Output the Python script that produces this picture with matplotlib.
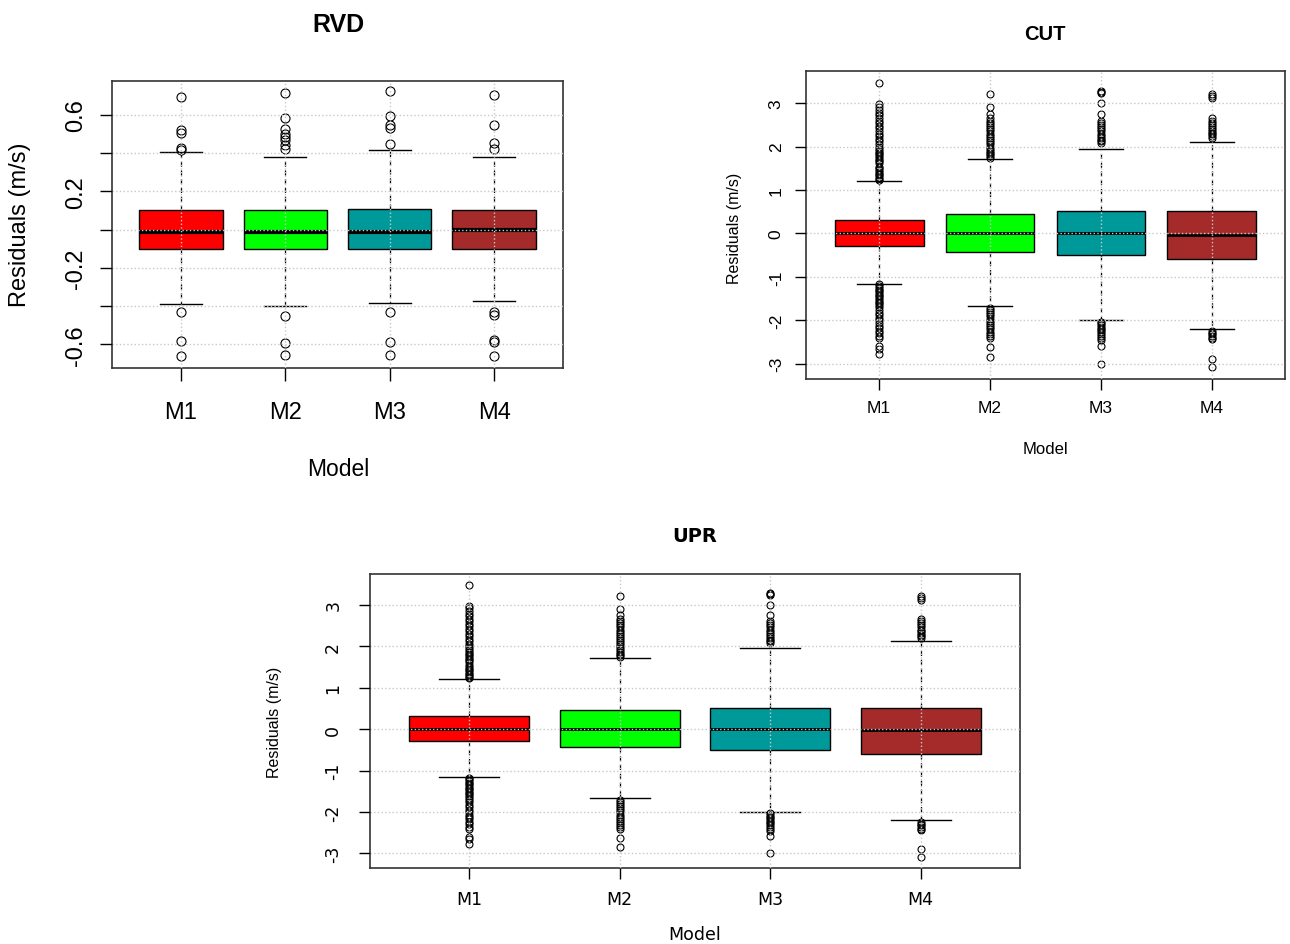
import matplotlib.pyplot as plt

plt.rcParams['font.family'] = ['Liberation Sans', 'DejaVu Sans']

W, H = 1290, 945

models = ['M1', 'M2', 'M3', 'M4']
box_colors = ['#FF0000', '#00FF00', '#009999', '#A52A2A']

# RVD residual summaries (m/s)
rvd_q1 = [-0.103, -0.103, -0.103, -0.103]
rvd_med = [-0.010, -0.010, -0.010, 0.000]
rvd_q3 = [0.101, 0.101, 0.108, 0.101]
rvd_whislo = [-0.389, -0.399, -0.382, -0.373]
rvd_whishi = [0.405, 0.380, 0.415, 0.380]
rvd_fliers = [
    [0.692, 0.520, 0.508, 0.429, 0.415, -0.431, -0.584, -0.661],
    [0.717, 0.584, 0.528, 0.502, 0.485, 0.467, 0.445, 0.420, -0.452, -0.591, -0.654],
    [0.724, 0.595, 0.546, 0.532, 0.450, -0.431, -0.588, -0.654],
    [0.703, 0.546, 0.455, 0.424, -0.431, -0.445, -0.579, -0.588, -0.661],
]
rvd_yticks = [-0.6, -0.4, -0.2, 0.0, 0.2, 0.4, 0.6]
rvd_ylabels = ['-0.6', '', '-0.2', '', '0.2', '', '0.6']

# CUT residual summaries (m/s)
cut_q1 = [-0.285, -0.423, -0.500, -0.590]
cut_med = [0.0, 0.0, 0.0, -0.03]
cut_q3 = [0.310, 0.454, 0.515, 0.515]
cut_whislo = [-1.154, -1.669, -1.992, -2.200]
cut_whishi = [1.200, 1.715, 1.954, 2.115]
cut_fliers = [
    [1.22, 1.26, 1.30, 1.34, 1.38, 1.42, 1.46, 1.50, 1.54, 1.62, 1.66, 1.70, 1.74,
     1.78, 1.82, 1.86, 1.90, 1.95, 2.00, 2.06, 2.12, 2.18, 2.24, 2.30, 2.36, 2.42,
     2.48, 2.54, 2.60, 2.66, 2.72, 2.78, 2.85, 2.92, 2.98, 3.47,
     -1.17, -1.21, -1.25, -1.29, -1.33, -1.37, -1.41, -1.45, -1.49, -1.53, -1.57,
     -1.61, -1.65, -1.70, -1.76, -1.82, -1.88, -1.94, -2.00, -2.06, -2.12, -2.18,
     -2.24, -2.30, -2.36, -2.40, -2.60, -2.65, -2.78],
    [1.74, 1.78, 1.82, 1.86, 1.90, 1.95, 2.00, 2.05, 2.10, 2.15, 2.20, 2.25, 2.30,
     2.35, 2.40, 2.45, 2.50, 2.55, 2.60, 2.66, 2.74, 2.90, 3.22,
     -1.71, -1.76, -1.81, -1.86, -1.91, -1.96, -2.01, -2.06, -2.11, -2.16, -2.21,
     -2.26, -2.31, -2.36, -2.40, -2.62, -2.85],
    [2.08, 2.12, 2.16, 2.20, 2.25, 2.30, 2.35, 2.40, 2.45, 2.50, 2.55, 2.60, 2.75,
     3.00, 3.23, 3.25, 3.27,
     -2.03, -2.07, -2.11, -2.15, -2.19, -2.23, -2.27, -2.31, -2.35, -2.40, -2.45,
     -2.58, -3.00],
    [2.20, 2.24, 2.28, 2.32, 2.36, 2.40, 2.45, 2.50, 2.55, 2.60, 2.66, 3.12, 3.17,
     3.20, -2.24, -2.28, -2.32, -2.36, -2.40, -2.43, -2.90, -3.08],
]
cut_yticks = [-3, -2, -1, 0, 1, 2, 3]
cut_ylabels = ['-3', '-2', '-1', '0', '1', '2', '3']

# UPR residuals share the CUT summaries
upr_q1, upr_med, upr_q3 = cut_q1, cut_med, cut_q3
upr_whislo, upr_whishi, upr_fliers = cut_whislo, cut_whishi, cut_fliers


def px_rect(x0, y0, x1, y1):
    return [x0 / W, 1 - y1 / H, (x1 - x0) / W, (y1 - y0) / H]


def px_text(x, y, s, **kw):
    fig.text(x / W, 1 - y / H, s, ha='center', va='center', **kw)


def draw_panel(ax, q1, med, q3, lo, hi, fliers, yticks, ylabels, ylim,
               fsize, msize, mlw, tlen, xpad, ypad, family=None):
    stats = []
    for i in range(len(models)):
        stats.append(dict(q1=q1[i], med=med[i], q3=q3[i], whislo=lo[i],
                          whishi=hi[i], fliers=fliers[i], label=models[i]))
    bp = ax.bxp(stats, positions=[1, 2, 3, 4], widths=0.8, capwidths=0.4,
                patch_artist=True, showfliers=True,
                boxprops=dict(edgecolor='black', linewidth=1.0),
                medianprops=dict(color='black', linewidth=mlw),
                whiskerprops=dict(color='black', linewidth=0.9, linestyle=(0, (4, 3))),
                capprops=dict(color='black', linewidth=1.0),
                flierprops=dict(marker='o', markerfacecolor='none',
                                markeredgecolor='black', markersize=msize,
                                markeredgewidth=0.8, linestyle='none'))
    for patch, c in zip(bp['boxes'], box_colors):
        patch.set_facecolor(c)

    ax.set_xlim(0.34, 4.66)
    ax.set_ylim(*ylim)
    ax.set_xticks([1, 2, 3, 4])
    ax.set_xticklabels(models)
    ax.set_yticks(yticks)
    ax.set_yticklabels(ylabels)

    # dotted grid on top of the boxes
    ax.set_axisbelow(False)
    ax.grid(True, color='#C8C8C8', linestyle=':', linewidth=1.0)

    ax.tick_params(axis='x', length=tlen, width=1.0, pad=xpad, labelsize=fsize)
    ax.tick_params(axis='y', length=tlen, width=1.0, pad=ypad, labelsize=fsize)
    for lab in ax.get_yticklabels():
        lab.set_rotation(90)
        lab.set_va('center')
    if family:
        for lab in ax.get_xticklabels() + ax.get_yticklabels():
            lab.set_family(family)
    for sp in ax.spines.values():
        sp.set_linewidth(1.2)
        sp.set_color('#333333')


fig = plt.figure(figsize=(W / 100, H / 100), dpi=100)

ax1 = fig.add_axes(px_rect(112, 82, 563, 369))
draw_panel(ax1, rvd_q1, rvd_med, rvd_q3, rvd_whislo, rvd_whishi, rvd_fliers,
           rvd_yticks, rvd_ylabels, (-0.724, 0.778), 17, 6.5, 3.0, 9, 15, 9)
px_text(338, 25, 'RVD', fontsize=18, fontweight='bold')
px_text(338, 470, 'Model', fontsize=16.5)
px_text(20, 225, 'Residuals (m/s)', fontsize=17, rotation=90)

ax2 = fig.add_axes(px_rect(806, 72, 1285, 380))
draw_panel(ax2, cut_q1, cut_med, cut_q3, cut_whislo, cut_whishi, cut_fliers,
           cut_yticks, cut_ylabels, (-3.35, 3.74), 12.5, 5, 2.0, 8, 7, 8)
px_text(1045, 35, 'CUT', fontsize=14.5, fontweight='bold')
px_text(1045, 450, 'Model', fontsize=12)
px_text(735, 228, 'Residuals (m/s)', fontsize=11.5, rotation=90)

ax3 = fig.add_axes(px_rect(370, 575, 1020, 869))
draw_panel(ax3, upr_q1, upr_med, upr_q3, upr_whislo, upr_whishi, upr_fliers,
           cut_yticks, cut_ylabels, (-3.35, 3.74), 12.5, 5, 2.0, 8, 8, 12,
           family=['DejaVu Sans'])
px_text(695, 537, 'UPR', fontsize=14, fontweight='bold', family=['DejaVu Sans'])
px_text(695, 935, 'Model', fontsize=12.5, family=['DejaVu Sans'])
px_text(275, 722, 'Residuals (m/s)', fontsize=11.5, rotation=90)

fig.savefig('out.png', dpi=100)
